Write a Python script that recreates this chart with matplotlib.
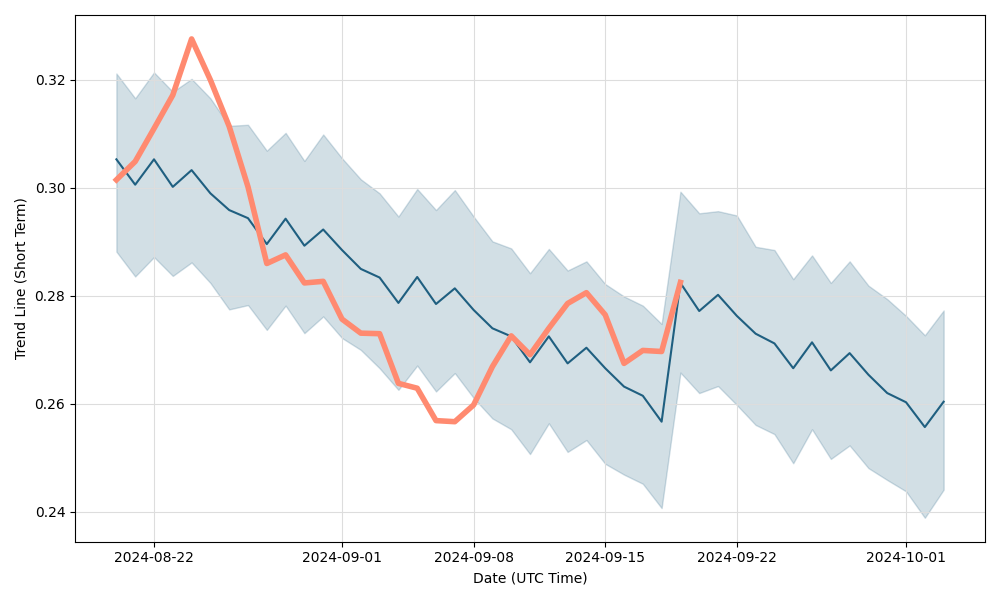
import numpy as np
import pandas as pd
import matplotlib
matplotlib.use("Agg")
import matplotlib.pyplot as plt
import matplotlib.dates as mdates

# daily values, 2024-08-20 .. 2024-10-03
dates = pd.date_range("2024-08-20", "2024-10-03", freq="D")

trend_mean = [0.3053, 0.3006, 0.3053, 0.3002, 0.3033, 0.2990, 0.2959, 0.2944, 0.2896, 0.2943,
              0.2893, 0.2923, 0.2885, 0.2850, 0.2834, 0.2787, 0.2835, 0.2785, 0.2814, 0.2774,
              0.2740, 0.2725, 0.2677, 0.2725, 0.2675, 0.2704, 0.2666, 0.2632, 0.2615, 0.2567,
              0.2824, 0.2772, 0.2802, 0.2763, 0.2730, 0.2712, 0.2666, 0.2714, 0.2662, 0.2694,
              0.2654, 0.2620, 0.2603, 0.2557, 0.2604]

band_upper = [0.3212, 0.3166, 0.3214, 0.3178, 0.3202, 0.3166, 0.3115, 0.3117, 0.3069, 0.3102,
              0.3050, 0.3099, 0.3055, 0.3016, 0.2990, 0.2947, 0.2998, 0.2959, 0.2996, 0.2947,
              0.2901, 0.2888, 0.2842, 0.2887, 0.2847, 0.2864, 0.2822, 0.2799, 0.2782, 0.2748,
              0.2993, 0.2953, 0.2957, 0.2949, 0.2891, 0.2885, 0.2831, 0.2875, 0.2824, 0.2864,
              0.2819, 0.2794, 0.2763, 0.2727, 0.2773]

band_lower = [0.2882, 0.2836, 0.2872, 0.2837, 0.2862, 0.2824, 0.2775, 0.2783, 0.2737, 0.2782,
              0.2731, 0.2762, 0.2722, 0.2700, 0.2666, 0.2626, 0.2671, 0.2623, 0.2657, 0.2611,
              0.2573, 0.2553, 0.2507, 0.2564, 0.2511, 0.2533, 0.2489, 0.2469, 0.2452, 0.2407,
              0.2658, 0.2620, 0.2633, 0.2598, 0.2561, 0.2544, 0.2490, 0.2553, 0.2498, 0.2523,
              0.2481, 0.2459, 0.2438, 0.2389, 0.2441]

# actual price, only up to 2024-09-19
price = [0.3015, 0.3049, 0.3110, 0.3172, 0.3276, 0.3200, 0.3114, 0.3002, 0.2860, 0.2876,
         0.2824, 0.2827, 0.2757, 0.2731, 0.2730, 0.2638, 0.2629, 0.2569, 0.2567, 0.2598,
         0.2669, 0.2726, 0.2691, 0.2740, 0.2786, 0.2806, 0.2765, 0.2675, 0.2699, 0.2697,
         0.2825]

line_col = "#1f5f80"
fig, ax = plt.subplots(figsize=(10, 6), dpi=100)

ax.fill_between(dates, band_lower, band_upper, color=line_col, alpha=0.2, zorder=1)
ax.plot(dates, trend_mean, color=line_col, lw=1.5, zorder=2)
ax.plot(dates[:len(price)], price, color="#ff8a70", lw=4, zorder=3)

ax.grid(True, color="#dddddd", lw=0.8)
ax.xaxis.set_major_formatter(mdates.DateFormatter("%Y-%m-%d"))
ax.set_xlabel("Date (UTC Time)")
ax.set_ylabel("Trend Line (Short Term)")

fig.tight_layout()
fig.savefig("out.png")
